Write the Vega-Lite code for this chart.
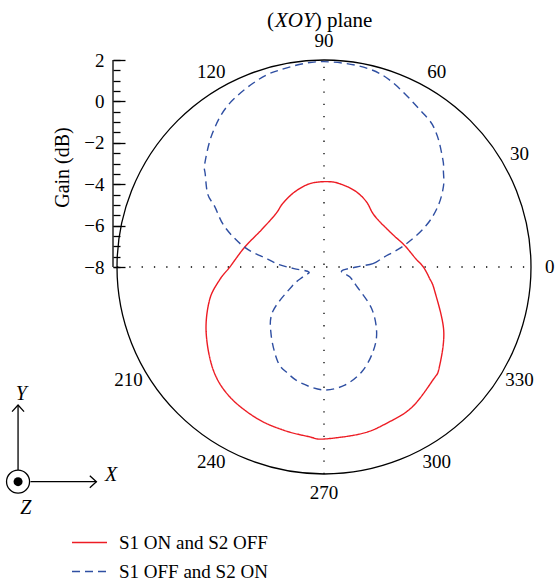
{
  "$schema": "https://vega.github.io/schema/vega-lite/v6.json",
  "width": 414,
  "height": 414,
  "autosize": {"type": "none"},
  "padding": {"left": 117, "top": 60, "right": 26, "bottom": 107},
  "background": "white",
  "config": {
    "view": {"stroke": null},
    "font": "Liberation Serif",
    "legend": {
      "labelFont": "Liberation Serif",
      "labelFontSize": 19,
      "labelColor": "black",
      "symbolType": "stroke",
      "symbolSize": 1225,
      "symbolStrokeWidth": 1.4,
      "labelOffset": 11,
      "rowPadding": -12,
      "padding": 0
    }
  },
  "resolve": {"axis": {"y": "independent"}},
  "datasets": {
    "gain": [
      {"s": "S1 ON and S2 OFF", "a": 0, "g": -3.2},
      {"s": "S1 ON and S2 OFF", "a": 5, "g": -3.54},
      {"s": "S1 ON and S2 OFF", "a": 15, "g": -3.97},
      {"s": "S1 ON and S2 OFF", "a": 25, "g": -4.32},
      {"s": "S1 ON and S2 OFF", "a": 39, "g": -4.53},
      {"s": "S1 ON and S2 OFF", "a": 48, "g": -4.49},
      {"s": "S1 ON and S2 OFF", "a": 57, "g": -4.24},
      {"s": "S1 ON and S2 OFF", "a": 67, "g": -4.04},
      {"s": "S1 ON and S2 OFF", "a": 77, "g": -3.93},
      {"s": "S1 ON and S2 OFF", "a": 86, "g": -3.87},
      {"s": "S1 ON and S2 OFF", "a": 99, "g": -3.91},
      {"s": "S1 ON and S2 OFF", "a": 111, "g": -4.10},
      {"s": "S1 ON and S2 OFF", "a": 123, "g": -4.34},
      {"s": "S1 ON and S2 OFF", "a": 132, "g": -4.53},
      {"s": "S1 ON and S2 OFF", "a": 149, "g": -4.49},
      {"s": "S1 ON and S2 OFF", "a": 166, "g": -4.05},
      {"s": "S1 ON and S2 OFF", "a": 180, "g": -3.45},
      {"s": "S1 ON and S2 OFF", "a": 187, "g": -2.92},
      {"s": "S1 ON and S2 OFF", "a": 196, "g": -2.25},
      {"s": "S1 ON and S2 OFF", "a": 209, "g": -1.49},
      {"s": "S1 ON and S2 OFF", "a": 223, "g": -0.69},
      {"s": "S1 ON and S2 OFF", "a": 234, "g": -0.25},
      {"s": "S1 ON and S2 OFF", "a": 246, "g": 0.0},
      {"s": "S1 ON and S2 OFF", "a": 256, "g": 0.12},
      {"s": "S1 ON and S2 OFF", "a": 265, "g": 0.23},
      {"s": "S1 ON and S2 OFF", "a": 270, "g": 0.31},
      {"s": "S1 ON and S2 OFF", "a": 283, "g": 0.25},
      {"s": "S1 ON and S2 OFF", "a": 292, "g": 0.13},
      {"s": "S1 ON and S2 OFF", "a": 302, "g": 0.0},
      {"s": "S1 ON and S2 OFF", "a": 314, "g": -0.42},
      {"s": "S1 ON and S2 OFF", "a": 319, "g": -0.62},
      {"s": "S1 ON and S2 OFF", "a": 332, "g": -1.45},
      {"s": "S1 ON and S2 OFF", "a": 348, "g": -2.54},
      {"s": "S1 ON and S2 OFF", "a": 354, "g": -2.88},
      {"s": "S1 OFF and S2 ON", "a": 0, "g": -6.43},
      {"s": "S1 OFF and S2 ON", "a": 4, "g": -5.63},
      {"s": "S1 OFF and S2 ON", "a": 9, "g": -5.10},
      {"s": "S1 OFF and S2 ON", "a": 15.5, "g": -3.91},
      {"s": "S1 OFF and S2 ON", "a": 22, "g": -2.69},
      {"s": "S1 OFF and S2 ON", "a": 28, "g": -1.77},
      {"s": "S1 OFF and S2 ON", "a": 34, "g": -1.04},
      {"s": "S1 OFF and S2 ON", "a": 39, "g": -0.58},
      {"s": "S1 OFF and S2 ON", "a": 42, "g": -0.27},
      {"s": "S1 OFF and S2 ON", "a": 50, "g": 0.44},
      {"s": "S1 OFF and S2 ON", "a": 57, "g": 0.83},
      {"s": "S1 OFF and S2 ON", "a": 74, "g": 1.73},
      {"s": "S1 OFF and S2 ON", "a": 90, "g": 1.92},
      {"s": "S1 OFF and S2 ON", "a": 103, "g": 1.75},
      {"s": "S1 OFF and S2 ON", "a": 111, "g": 1.52},
      {"s": "S1 OFF and S2 ON", "a": 121, "g": 1.07},
      {"s": "S1 OFF and S2 ON", "a": 130, "g": 0.40},
      {"s": "S1 OFF and S2 ON", "a": 139, "g": -0.37},
      {"s": "S1 OFF and S2 ON", "a": 142, "g": -0.72},
      {"s": "S1 OFF and S2 ON", "a": 148, "g": -1.38},
      {"s": "S1 OFF and S2 ON", "a": 151, "g": -1.96},
      {"s": "S1 OFF and S2 ON", "a": 158, "g": -2.83},
      {"s": "S1 OFF and S2 ON", "a": 166, "g": -4.04},
      {"s": "S1 OFF and S2 ON", "a": 172, "g": -5.25},
      {"s": "S1 OFF and S2 ON", "a": 177, "g": -5.83},
      {"s": "S1 OFF and S2 ON", "a": 183, "g": -6.55},
      {"s": "S1 OFF and S2 ON", "a": 198, "g": -7.23},
      {"s": "S1 OFF and S2 ON", "a": 205, "g": -6.88},
      {"s": "S1 OFF and S2 ON", "a": 211, "g": -6.2},
      {"s": "S1 OFF and S2 ON", "a": 221, "g": -4.72},
      {"s": "S1 OFF and S2 ON", "a": 232, "g": -3.85},
      {"s": "S1 OFF and S2 ON", "a": 244, "g": -2.91},
      {"s": "S1 OFF and S2 ON", "a": 251, "g": -2.58},
      {"s": "S1 OFF and S2 ON", "a": 259, "g": -2.28},
      {"s": "S1 OFF and S2 ON", "a": 270, "g": -2.06},
      {"s": "S1 OFF and S2 ON", "a": 280, "g": -2.21},
      {"s": "S1 OFF and S2 ON", "a": 290, "g": -2.63},
      {"s": "S1 OFF and S2 ON", "a": 300, "g": -3.27},
      {"s": "S1 OFF and S2 ON", "a": 309, "g": -3.96},
      {"s": "S1 OFF and S2 ON", "a": 319, "g": -4.96},
      {"s": "S1 OFF and S2 ON", "a": 330, "g": -6.2},
      {"s": "S1 OFF and S2 ON", "a": 339, "g": -6.67},
      {"s": "S1 OFF and S2 ON", "a": 347, "g": -7.13}
    ],
    "angles": [
      {"lab": "0", "a": 0},
      {"lab": "30", "a": 30},
      {"lab": "60", "a": 60},
      {"lab": "90", "a": 90},
      {"lab": "120", "a": 120},
      {"lab": "210", "a": 210},
      {"lab": "240", "a": 240},
      {"lab": "270", "a": 270},
      {"lab": "300", "a": 300},
      {"lab": "330", "a": 330}
    ]
  },
  "layer": [
    {
      "data": {"values": [{}]},
      "mark": {"type": "rule", "stroke": "black", "strokeWidth": 1.3, "strokeDash": [1.3, 11]},
      "encoding": {
        "x": {"datum": -10, "type": "quantitative", "scale": {"domain": [-10, 10], "nice": false, "zero": false}, "axis": null},
        "x2": {"datum": 10},
        "y": {"datum": 0, "type": "quantitative", "scale": {"domain": [-10, 10], "nice": false, "zero": false}, "axis": null}
      }
    },
    {
      "data": {"values": [{}]},
      "mark": {"type": "rule", "stroke": "black", "strokeWidth": 1.3, "strokeDash": [1.3, 11]},
      "encoding": {
        "x": {"datum": 0, "type": "quantitative", "axis": null},
        "y": {"datum": -10, "type": "quantitative", "axis": null},
        "y2": {"datum": 10}
      }
    },
    {
      "data": {"values": [{}]},
      "mark": {"type": "point", "shape": "circle", "filled": false, "size": 171396, "stroke": "black", "strokeWidth": 1.3, "opacity": 1},
      "encoding": {
        "x": {"datum": 0, "type": "quantitative", "axis": null},
        "y": {"datum": 0, "type": "quantitative", "axis": null}
      }
    },
    {
      "data": {"name": "gain"},
      "transform": [
        {"calculate": "(datum.g + 8) * cos(datum.a * PI / 180)", "as": "x"},
        {"calculate": "(datum.g + 8) * sin(datum.a * PI / 180)", "as": "y"}
      ],
      "mark": {"type": "line", "interpolate": "cardinal-closed", "strokeWidth": 1.4},
      "encoding": {
        "x": {"field": "x", "type": "quantitative", "axis": null},
        "y": {
          "field": "y",
          "type": "quantitative",
          "axis": {
            "orient": "left",
            "values": [0, 2, 4, 6, 8, 10],
            "domain": false,
            "grid": false,
            "offset": 4,
            "ticks": true,
            "tickColor": "black",
            "tickWidth": 1.3,
            "tickSize": -12,
            "labelExpr": "format(datum.value - 8, 'd')",
            "labelFont": "Liberation Serif",
            "labelFontSize": 19,
            "labelColor": "black",
            "labelPadding": 21,
            "labelOverlap": false,
            "labelFlush": false,
            "title": "Gain (dB)",
            "titleFont": "Liberation Serif",
            "titleFontSize": 20,
            "titleFontWeight": "normal",
            "titleColor": "black",
            "titleAngle": 270,
            "titleX": -51,
            "titleY": 107,
            "titleAlign": "center",
            "titleBaseline": "middle"
          }
        },
        "order": {"field": "a", "type": "quantitative"},
        "color": {
          "field": "s",
          "type": "nominal",
          "scale": {"domain": ["S1 ON and S2 OFF", "S1 OFF and S2 ON"], "range": ["#ed1c24", "#2f4fa2"]},
          "legend": {"orient": "none", "legendX": -46, "legendY": 464, "title": null}
        },
        "strokeDash": {
          "field": "s",
          "type": "nominal",
          "scale": {"domain": ["S1 ON and S2 OFF", "S1 OFF and S2 ON"], "range": [[1, 0], [8, 5]]},
          "legend": {"orient": "none", "legendX": -46, "legendY": 464, "title": null}
        }
      }
    },
    {
      "data": {"name": "angles"},
      "transform": [
        {"calculate": "10.9 * cos(datum.a * PI / 180)", "as": "x"},
        {"calculate": "10.9 * sin(datum.a * PI / 180)", "as": "y"}
      ],
      "mark": {"type": "text", "font": "Liberation Serif", "fontSize": 19, "color": "black", "align": "center", "baseline": "middle"},
      "encoding": {
        "x": {"field": "x", "type": "quantitative", "axis": null},
        "y": {"field": "y", "type": "quantitative", "axis": null},
        "text": {"field": "lab"}
      }
    },
    {
      "data": {"values": [{}]},
      "mark": {"type": "text", "text": "(", "font": "Liberation Serif", "fontSize": 21, "color": "black", "align": "right", "baseline": "alphabetic"},
      "encoding": {
        "x": {"datum": -2.415, "type": "quantitative", "axis": null},
        "y": {"datum": 11.59, "type": "quantitative", "axis": null}
      }
    },
    {
      "data": {"values": [{}]},
      "mark": {"type": "text", "text": "XOY", "font": "Liberation Serif", "fontStyle": "italic", "fontSize": 21, "color": "black", "align": "left", "baseline": "alphabetic"},
      "encoding": {
        "x": {"datum": -2.37, "type": "quantitative", "axis": null},
        "y": {"datum": 11.59, "type": "quantitative", "axis": null}
      }
    },
    {
      "data": {"values": [{}]},
      "mark": {"type": "text", "text": ") plane", "font": "Liberation Serif", "fontSize": 21, "color": "black", "align": "left", "baseline": "alphabetic"},
      "encoding": {
        "x": {"datum": -0.45, "type": "quantitative", "axis": null},
        "y": {"datum": 11.59, "type": "quantitative", "axis": null}
      }
    },
    {
      "data": {"values": [{}]},
      "mark": {"type": "rule", "stroke": "black", "strokeWidth": 1.3},
      "encoding": {
        "x": {"datum": -10.193, "type": "quantitative", "axis": null},
        "y": {
          "datum": 0,
          "type": "quantitative",
          "axis": {
            "orient": "left",
            "values": [0, 0.5, 1, 1.5, 2, 2.5, 3, 3.5, 4, 4.5, 5, 5.5, 6, 6.5, 7, 7.5, 8, 8.5, 9, 9.5, 10],
            "domain": false,
            "grid": false,
            "offset": 4,
            "ticks": true,
            "tickColor": "black",
            "tickWidth": 1.3,
            "tickSize": -7,
            "labels": false,
            "title": null
          }
        },
        "y2": {"datum": 10}
      }
    },
    {
      "data": {"values": [{}]},
      "mark": {"type": "rule", "stroke": "black", "strokeWidth": 1.3},
      "encoding": {
        "x": {"datum": -14.78, "type": "quantitative", "axis": null},
        "y": {"datum": -9.81, "type": "quantitative", "axis": null},
        "y2": {"datum": -6.67}
      }
    },
    {
      "data": {"values": [{}]},
      "mark": {"type": "rule", "stroke": "black", "strokeWidth": 1.3},
      "encoding": {
        "x": {"datum": -14.18, "type": "quantitative", "axis": null},
        "x2": {"datum": -10.995},
        "y": {"datum": -10.37, "type": "quantitative", "axis": null}
      }
    },
    {
      "data": {"values": [{}]},
      "mark": {"type": "point", "shape": "M-1,1.1L0,0L1,1.1", "filled": false, "size": 144, "stroke": "black", "strokeWidth": 1.3, "opacity": 1},
      "encoding": {
        "x": {"datum": -14.78, "type": "quantitative", "axis": null},
        "y": {"datum": -6.67, "type": "quantitative", "axis": null}
      }
    },
    {
      "data": {"values": [{}]},
      "mark": {"type": "point", "shape": "M-1.1,-1L0,0L-1.1,1", "filled": false, "size": 144, "stroke": "black", "strokeWidth": 1.3, "opacity": 1},
      "encoding": {
        "x": {"datum": -10.995, "type": "quantitative", "axis": null},
        "y": {"datum": -10.37, "type": "quantitative", "axis": null}
      }
    },
    {
      "data": {"values": [{}]},
      "mark": {"type": "point", "shape": "circle", "filled": false, "size": 529, "stroke": "black", "strokeWidth": 1.3, "opacity": 1},
      "encoding": {
        "x": {"datum": -14.78, "type": "quantitative", "axis": null},
        "y": {"datum": -10.37, "type": "quantitative", "axis": null}
      }
    },
    {
      "data": {"values": [{}]},
      "mark": {"type": "point", "shape": "circle", "filled": true, "size": 81, "color": "black", "opacity": 1},
      "encoding": {
        "x": {"datum": -14.78, "type": "quantitative", "axis": null},
        "y": {"datum": -10.37, "type": "quantitative", "axis": null}
      }
    },
    {
      "data": {"values": [{"t": "Y", "px": -14.62, "py": -6.12}, {"t": "X", "px": -10.29, "py": -10.06}, {"t": "Z", "px": -14.4, "py": -11.66}]},
      "mark": {"type": "text", "font": "Liberation Serif", "fontStyle": "italic", "fontSize": 20, "color": "black", "align": "center", "baseline": "middle"},
      "encoding": {
        "x": {"field": "px", "type": "quantitative", "axis": null},
        "y": {"field": "py", "type": "quantitative", "axis": null},
        "text": {"field": "t"}
      }
    }
  ]
}
